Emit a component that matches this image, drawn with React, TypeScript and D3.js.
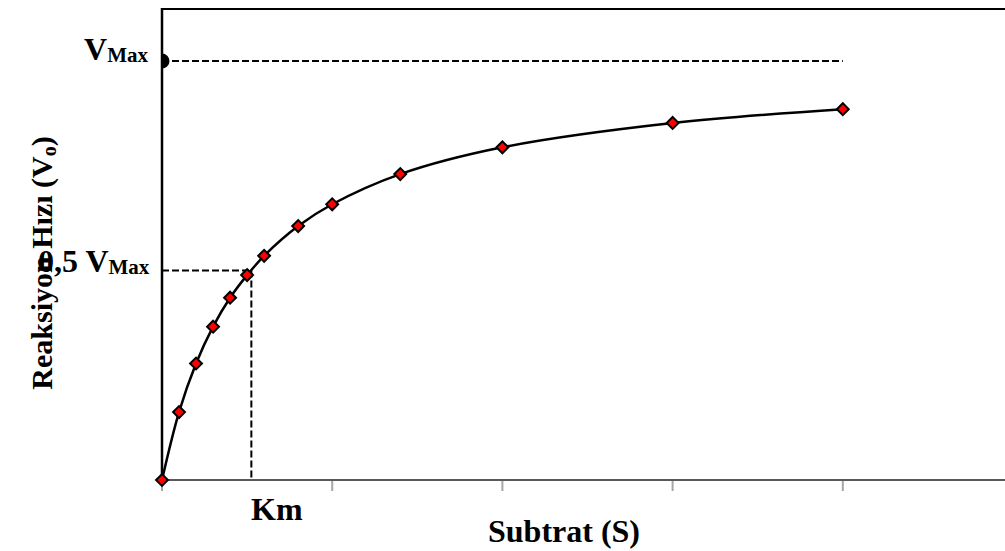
import React from "react";
import * as d3 from "d3";

const substrate = [0, 1, 2, 3, 4, 5, 6, 8, 10, 14, 20, 30, 40];
const velocity = [0, 16.2, 27.8, 36.6, 43.5, 48.9, 53.5, 60.6, 65.8, 73.0, 79.4, 85.2, 88.5];
const xTicks = [0, 10, 20, 30, 40, 50];
const vMax = 100;
const halfVMax = 50;
const km = 5.25;
const vMaxLineEnd = 40;

const W = 1005;
const H = 551;

export default function App() {
  const x = d3.scaleLinear().domain([0, 50]).range([162, 1013]);
  const y = d3.scaleLinear().domain([0, 112.4]).range([480, 9]);
  const pts: [number, number][] = substrate.map((s, i) => [s, velocity[i]]);
  const line = d3
    .line<[number, number]>()
    .x((d) => x(d[0]))
    .y((d) => y(d[1]))
    .curve(d3.curveCatmullRom.alpha(0.5));
  const font = "'Liberation Serif', 'Times New Roman', serif";
  const x0 = x(0);
  const y0 = y(0);
  const yTop = y(112.4);
  return (
    <svg
      width={W}
      height={H}
      style={{ position: "absolute", left: 0, top: 0, background: "#fff" }}
      fontFamily={font}
      fontWeight="bold"
    >
      <defs>
        <clipPath id="plot">
          <rect x={x0} y={yTop} width={x(50) - x0} height={y0 - yTop} />
        </clipPath>
      </defs>
      {/* top border */}
      <line x1={x0} x2={x(50)} y1={yTop} y2={yTop} stroke="#000" strokeWidth={2} />
      {/* bottom axis */}
      <line x1={x0} x2={x(50)} y1={y0} y2={y0} stroke="#595959" strokeWidth={2} />
      {xTicks.map((t) => (
        <line key={t} x1={x(t)} x2={x(t)} y1={y0 + 1} y2={y0 + 11} stroke="#a6a6a6" strokeWidth={2} />
      ))}
      {/* dashed guides */}
      <line x1={x0} x2={x(vMaxLineEnd)} y1={y(vMax)} y2={y(vMax)} stroke="#000" strokeWidth={2} strokeDasharray="7,3" />
      <line x1={x0} x2={x(km)} y1={y(halfVMax)} y2={y(halfVMax)} stroke="#000" strokeWidth={2} strokeDasharray="7,3" />
      <line x1={x(km)} x2={x(km)} y1={y(halfVMax)} y2={y0} stroke="#000" strokeWidth={2} strokeDasharray="7,3" />
      {/* vmax dot */}
      <g clipPath="url(#plot)">
        <circle cx={x0} cy={y(vMax)} r={7.5} fill="#000" />
      </g>
      {/* left axis */}
      <line x1={x0} x2={x0} y1={yTop - 1} y2={y0} stroke="#000" strokeWidth={2.5} />
      {/* curve */}
      <path d={line(pts) || ""} fill="none" stroke="#000" strokeWidth={2.5} />
      {pts.map((p, i) => (
        <rect
          key={i}
          x={x(p[0]) - 4.2}
          y={y(p[1]) - 4.2}
          width={8.4}
          height={8.4}
          fill="#ff0000"
          stroke="#000"
          strokeWidth={2}
          transform={`rotate(45 ${x(p[0])} ${y(p[1])})`}
        />
      ))}
      {/* labels */}
      <text x={148} y={60} textAnchor="end" fontSize={32} fill="#000">
        V<tspan fontSize={21} dy={2}>Max</tspan>
      </text>
      <text x={38} y={272} fontSize={32} fill="#000">
        0,5 V<tspan fontSize={21} dy={2}>Max</tspan>
      </text>
      <text x={251} y={520} fontSize={32} fill="#000">
        Km
      </text>
      <text x={564} y={542} textAnchor="middle" fontSize={32} fill="#000">
        Subtrat (S)
      </text>
      <text
        transform="translate(52,263) rotate(-90)"
        textAnchor="middle"
        fontSize={30}
        fill="#000"
      >
        Reaksiyon Hızı (V<tspan fontSize={20} dy={4}>o</tspan>
        <tspan dy={-4}>)</tspan>
      </text>
    </svg>
  );
}
